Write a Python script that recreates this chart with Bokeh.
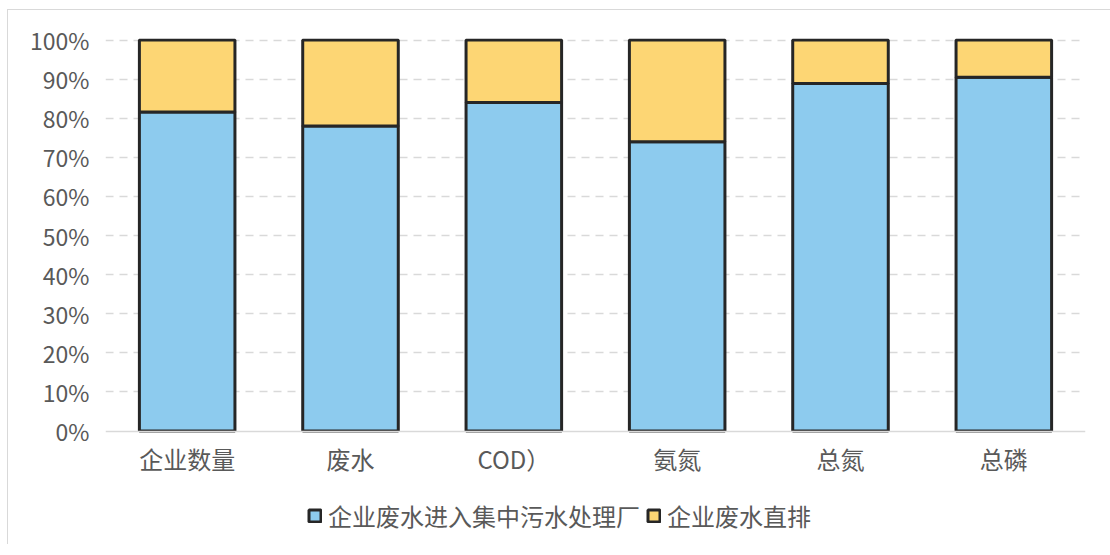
from bokeh.plotting import figure
from bokeh.models import FactorRange, Range1d, NumeralTickFormatter, FixedTicker, Legend, LegendItem, ColumnDataSource
from bokeh.embed import file_html
from bokeh.resources import INLINE

categories = ["企业数量", "废水", "COD）", "氨氮", "总氮", "总磷"]
central = [0.816, 0.780, 0.840, 0.740, 0.889, 0.905]
direct = [round(1 - v, 3) for v in central]
series_names = ["企业废水进入集中污水处理厂", "企业废水直排"]
y_ticks = [0, 0.1, 0.2, 0.3, 0.4, 0.5, 0.6, 0.7, 0.8, 0.9, 1.0]

FONT = "Noto Sans CJK SC"
TXT = "#595959"

src = ColumnDataSource(dict(cat=categories, central=central, direct=direct))

FRAME_H = 506
Y_END = 1.004
Y_START = Y_END - FRAME_H / 391.0

p = figure(x_range=FactorRange(*categories, range_padding=0), y_range=Range1d(Y_START, Y_END),
           frame_width=980, frame_height=FRAME_H, min_border_left=97, min_border_top=28,
           min_border_right=25, min_border_bottom=0,
           output_backend="svg", toolbar_location=None)
p.styles = {"border-left": "1px solid #d9d9d9", "border-top": "1px solid #d9d9d9",
            "margin-left": "7px", "margin-top": "9px"}

r = p.vbar_stack(["central", "direct"], x="cat", width=0.585, source=src,
                 fill_color=["#8DCBEE", "#FDD674"], line_color="#262626", line_width=3)

p.outline_line_color = None
p.xgrid.grid_line_color = None
p.ygrid.grid_line_color = "#d9d9d9"
p.ygrid.grid_line_dash = "8 6"
p.ygrid.grid_line_width = 1.5
p.ygrid.ticker = FixedTicker(ticks=y_ticks[1:])

p.yaxis.ticker = FixedTicker(ticks=y_ticks)
p.yaxis.formatter = NumeralTickFormatter(format="0%")
p.yaxis.axis_line_color = None
p.yaxis.major_tick_line_color = None
p.yaxis.minor_tick_line_color = None
p.yaxis.major_label_text_font = FONT
p.yaxis.major_label_text_font_size = "23px"
p.yaxis.major_label_text_color = TXT
p.yaxis.major_label_standoff = 10

p.xaxis.fixed_location = 0
p.xaxis.axis_line_color = "#d9d9d9"
p.xaxis.axis_line_width = 1.5
p.xaxis.major_tick_line_color = None
p.xaxis.minor_tick_line_color = None
p.xaxis.major_label_text_font = FONT
p.xaxis.major_label_text_font_size = "24px"
p.xaxis.major_label_text_color = TXT
p.xaxis.major_label_standoff = 4

legend = Legend(items=[LegendItem(label=series_names[0], renderers=[r[0]]),
                       LegendItem(label=series_names[1], renderers=[r[1]])],
                orientation="horizontal", location=(202, 11),
                label_text_font=FONT, label_text_font_size="24px", label_text_color=TXT,
                glyph_width=15, glyph_height=15, spacing=6, label_standoff=6,
                border_line_color=None, background_fill_alpha=0, margin=0, padding=0)
p.add_layout(legend, "center")

open("out.html", "w").write(file_html(p, INLINE))
